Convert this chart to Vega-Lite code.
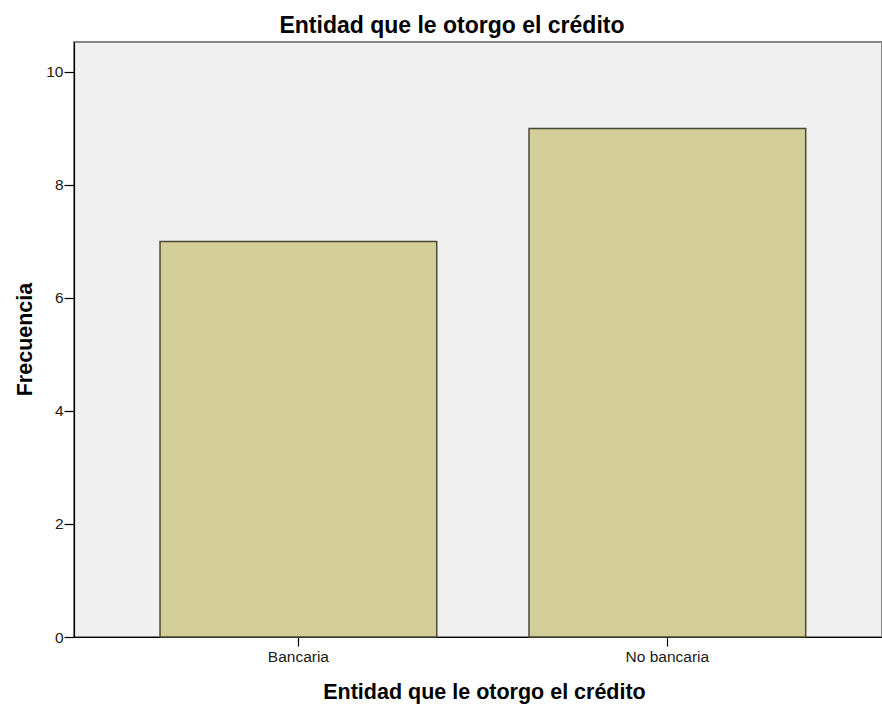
{
  "$schema": "https://vega.github.io/schema/vega-lite/v6.json",
  "autosize": "none",
  "width": 808,
  "height": 595,
  "padding": {"left": 74, "top": 42, "right": 0, "bottom": 67},
  "background": "white",
  "title": {
    "text": "Entidad que le otorgo el crédito",
    "anchor": "middle",
    "dx": -26,
    "offset": 4,
    "font": "Liberation Sans",
    "fontSize": 23,
    "fontWeight": "bold",
    "color": "#000000"
  },
  "config": {
    "view": {"fill": "#f0f0f0", "stroke": "#888888", "strokeWidth": 2},
    "axis": {
      "domainColor": "#000000",
      "domainWidth": 1.2,
      "tickColor": "#000000",
      "tickWidth": 1.2,
      "labelFont": "Liberation Sans",
      "labelFontSize": 15.5,
      "labelColor": "#1a1a1a",
      "titleFont": "Liberation Sans",
      "titleFontSize": 21.5,
      "titleFontWeight": "bold",
      "titleColor": "#000000",
      "grid": false
    }
  },
  "data": {
    "values": [
      {"entidad": "Bancaria", "frecuencia": 7},
      {"entidad": "No bancaria", "frecuencia": 9}
    ]
  },
  "mark": {"type": "bar", "fill": "#d3ce97", "stroke": "#4a4a35", "strokeWidth": 1.5},
  "encoding": {
    "x": {
      "field": "entidad",
      "type": "nominal",
      "sort": ["Bancaria", "No bancaria"],
      "scale": {"paddingInner": 0.25, "paddingOuter": 0.22, "align": 0.53},
      "axis": {
        "title": "Entidad que le otorgo el crédito",
        "labelAngle": 0,
        "tickSize": 9,
        "labelPadding": 3,
        "titleX": 410,
        "titleY": 61,
        "titleAlign": "center",
        "titleBaseline": "alphabetic"
      }
    },
    "y": {
      "field": "frecuencia",
      "type": "quantitative",
      "scale": {"domain": [0, 10.53], "nice": false},
      "axis": {
        "title": "Frecuencia",
        "values": [0, 2, 4, 6, 8, 10],
        "tickSize": 10,
        "labelPadding": 1,
        "titleX": -43,
        "titleY": 297,
        "titleAngle": -90,
        "titleAlign": "center",
        "titleBaseline": "alphabetic"
      }
    }
  }
}
